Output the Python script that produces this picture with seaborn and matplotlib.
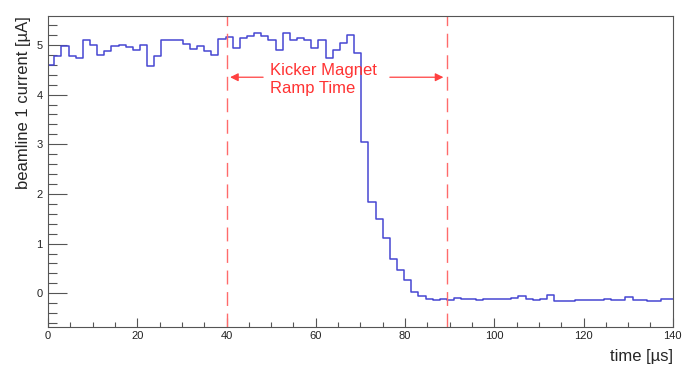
import numpy as np
import pandas as pd
import matplotlib
matplotlib.use('Agg')
import matplotlib.pyplot as plt
from matplotlib.ticker import MultipleLocator
import seaborn as sns

# histogram binning (us)
bin_width = 1.6
first_edge = -0.2

# beamline 1 current per bin [uA]
current = [4.60, 4.77, 4.97, 4.77, 4.74, 5.10, 5.00, 4.80, 4.88, 4.97,
           4.99, 4.95, 4.90, 5.00, 4.58, 4.77, 5.10, 5.09, 5.10, 5.01,
           4.92, 4.97, 4.88, 4.79, 5.12, 5.17, 4.93, 5.13, 5.19, 5.24,
           5.19, 5.10, 4.89, 5.24, 5.09, 5.13, 5.10, 4.93, 5.09, 4.73,
           4.90, 5.04, 5.20, 4.84, 3.05, 1.84, 1.50, 1.12, 0.69, 0.46,
           0.26, 0.03, -0.06, -0.11, -0.14, -0.11, -0.13, -0.09, -0.11, -0.11,
           -0.14, -0.11, -0.11, -0.12, -0.12, -0.09, -0.05, -0.11, -0.13, -0.11,
           -0.04, -0.16, -0.16, -0.16, -0.14, -0.13, -0.13, -0.13, -0.11, -0.14,
           -0.14, -0.08, -0.14, -0.14, -0.15, -0.15, -0.11, -0.11]

# kicker magnet ramp window (us)
ramp_start = 40.0
ramp_end = 89.4

edges = first_edge + bin_width * np.arange(len(current) + 1)
# step outline: each bin value starts at its left edge, last value repeated at the final edge
df = pd.DataFrame({'time': edges, 'current': current + [current[-1]]})

sns.set_style('ticks')
plt.rcParams['font.family'] = ['Liberation Sans', 'DejaVu Sans']

fig = plt.figure(figsize=(7, 3.67), dpi=100)
ax = fig.add_axes([0.0686, 0.109, 0.8925, 0.847])

sns.lineplot(data=df, x='time', y='current', drawstyle='steps-post',
             estimator=None, color='#4646d2', linewidth=1.1, ax=ax)

# ramp window markers
for t in [ramp_start, ramp_end]:
    ax.axvline(t, color='#ff6b6b', lw=1.0, dashes=(10, 5.5))

ax.text(49.7, 4.31, 'Kicker Magnet\nRamp Time', color='#ff3333', fontsize=12,
        ha='left', va='center', linespacing=1.25)
ax.annotate('', xy=(40.8, 4.35), xytext=(48.2, 4.35),
            arrowprops=dict(arrowstyle='-|>', color='#ff4040', lw=0.9,
                            mutation_scale=12, shrinkA=0, shrinkB=0))
ax.annotate('', xy=(88.6, 4.35), xytext=(76.6, 4.35),
            arrowprops=dict(arrowstyle='-|>', color='#ff4040', lw=0.9,
                            mutation_scale=12, shrinkA=0, shrinkB=0))

ax.set_xlim(0, 140)
ax.set_ylim(-0.68, 5.58)
ax.xaxis.set_major_locator(MultipleLocator(20))
ax.xaxis.set_minor_locator(MultipleLocator(5))
ax.yaxis.set_major_locator(MultipleLocator(1))
ax.yaxis.set_minor_locator(MultipleLocator(0.2))

ax.tick_params(axis='both', which='both', direction='in', color='#555555',
               width=0.8, labelsize=8, labelcolor='#222222')
ax.tick_params(axis='y', which='major', length=13.7, pad=4)
ax.tick_params(axis='y', which='minor', length=6.8)
ax.tick_params(axis='x', which='major', length=6.7, pad=3)
ax.tick_params(axis='x', which='minor', length=3.4)

for s in ax.spines.values():
    s.set_color('#555555')
    s.set_linewidth(0.8)

ax.set_ylabel('beamline 1 current [µA]', loc='top', fontsize=12, labelpad=4)
ax.set_xlabel('time [µs]', loc='right', fontsize=12, labelpad=5.5)

fig.savefig('out.png', dpi=100)
